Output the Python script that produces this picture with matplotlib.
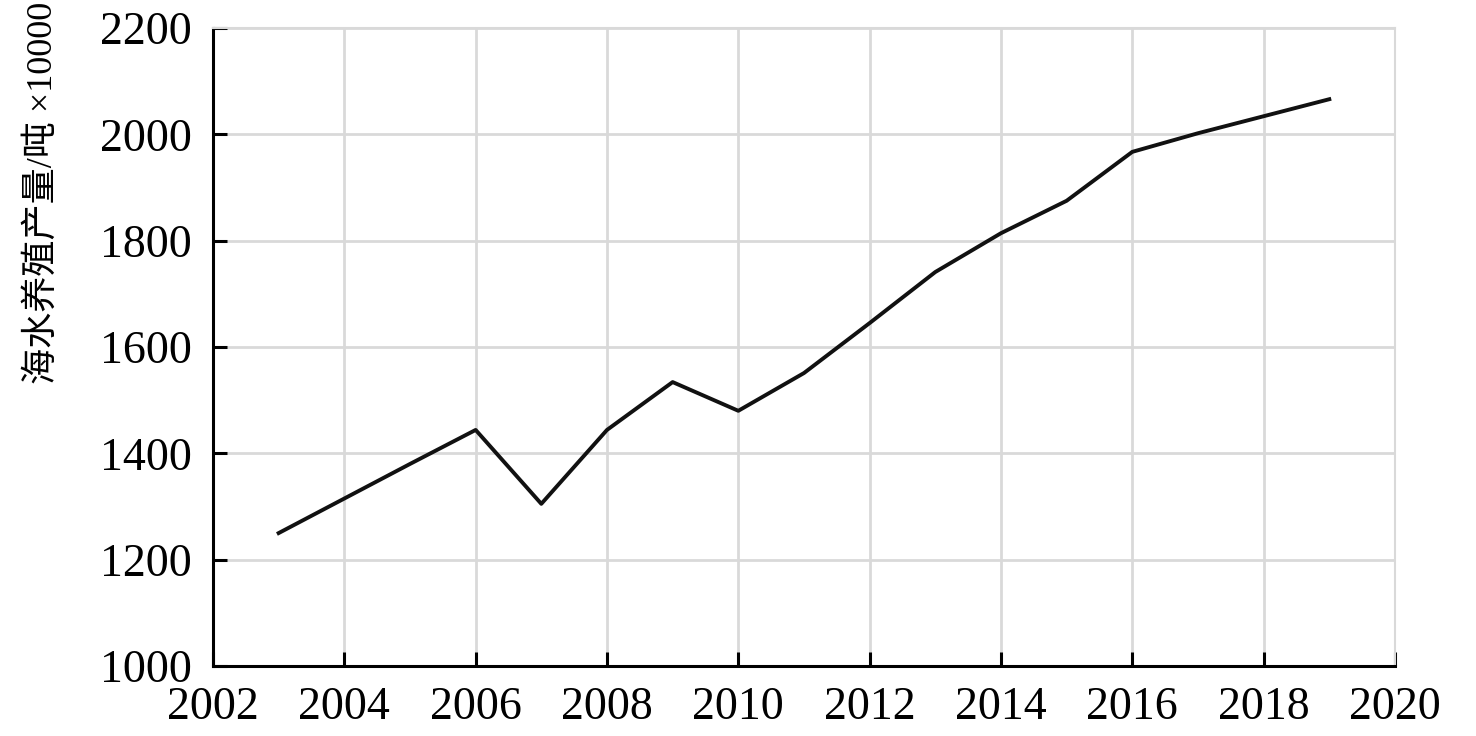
import matplotlib
matplotlib.use('Agg')
import matplotlib.pyplot as plt

years = [2003, 2004, 2005, 2006, 2007, 2008, 2009, 2010, 2011,
         2012, 2013, 2014, 2015, 2016, 2017, 2018, 2019]
output = [1250, 1315, 1380, 1444, 1305, 1444, 1534, 1480, 1551,
          1645, 1741, 1814, 1875, 1967, 2002, 2034, 2066]
x_ticks = list(range(2002, 2021, 2))
y_ticks = list(range(1000, 2201, 200))

plt.rcParams['font.family'] = ['Liberation Serif', 'Noto Sans CJK SC']

fig = plt.figure(figsize=(14.76, 7.36), dpi=100)
ax = fig.add_axes([0.1443, 0.0951, 0.8008, 0.8669])

ax.plot(years, output, color='#111111', linewidth=2.8, zorder=3)

ax.set_xlim(2002, 2020)
ax.set_ylim(1000, 2200)
ax.set_xticks(x_ticks)
ax.set_yticks(y_ticks)
ax.grid(True, color='#d9d9d9', linewidth=2)
ax.set_axisbelow(True)

for side in ['top', 'right']:
    ax.spines[side].set_color('#d9d9d9')
    ax.spines[side].set_linewidth(1.5)
for side in ['left', 'bottom']:
    ax.spines[side].set_color('black')
    ax.spines[side].set_linewidth(2.2)

ax.tick_params(direction='in', length=10, width=2.2, labelsize=33)
ax.tick_params(axis='y', pad=15)
ax.tick_params(axis='x', pad=15)

ax.set_ylabel('海水养殖产量/吨 ×10000', fontsize=26)
ax.yaxis.set_label_coords(-0.13, 0.742)

fig.savefig('out.png', dpi=100)
